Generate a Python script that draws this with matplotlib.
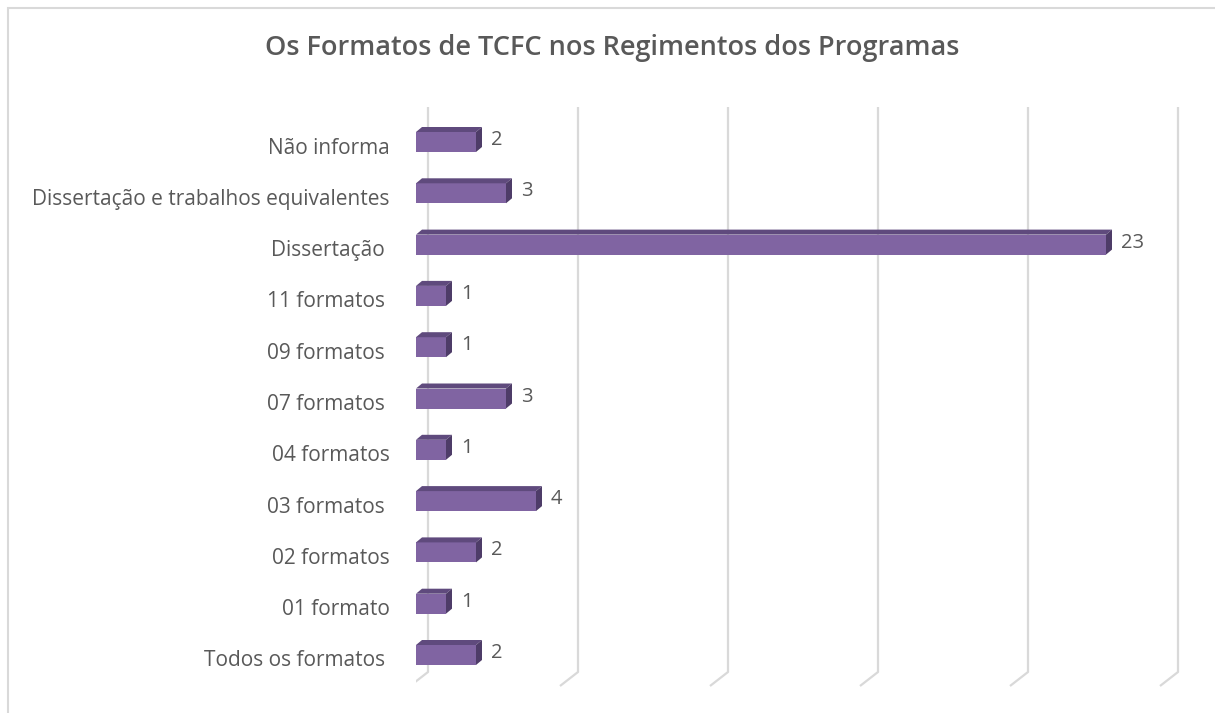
import matplotlib.pyplot as plt
from matplotlib.patches import Polygon, Rectangle

categories = ['Todos os formatos ', '01 formato', '02 formatos', '03 formatos ',
              '04 formatos', '07 formatos ', '09 formatos ', '11 formatos ',
              'Dissertação ', 'Dissertação e trabalhos equivalentes', 'Não informa']
values = [2, 1, 2, 4, 1, 3, 1, 1, 23, 3, 2]

W, H = 1215, 713
front = '#8064A2'
top_col = '#5F4A7D'
side_col = '#4E3C68'
grid_col = '#D9D9D9'
txt = '#595959'

plt.rcParams['font.family'] = ['Open Sans', 'DejaVu Sans']

fig = plt.figure(figsize=(W / 100, H / 100), dpi=100)

# axes placed so data maps to pixels: x 0 -> 416 px, 30 px per unit
x0_px, px_unit = 416, 30.0
ax_l, ax_r = x0_px, 1200
y_bot_px, y_top_px = 695, 90
ax = fig.add_axes([ax_l / W, 1 - y_bot_px / H, (ax_r - ax_l) / W, (y_bot_px - y_top_px) / H])
ax.set_xlim(0, (ax_r - ax_l) / px_unit)
# category i center at pixel 655 - 51.3*i
cat_px = 51.3
ax.set_ylim((655 - y_bot_px) / cat_px, (655 - y_top_px) / cat_px)
ax.axis('off')

def dx(p):
    return p / px_unit

def dy(p):
    return p / cat_px

# floor/back-wall gridlines
for k in range(6):
    xb = 5 * k + dx(12)
    ax.plot([xb, xb, xb - dx(18)], [(655 - 107) / cat_px, (655 - 672) / cat_px, (655 - 686) / cat_px],
            color=grid_col, lw=1.6, solid_capstyle='butt', zorder=1)

bh = dy(20)
ddx, ddy = dx(6), dy(5)
for i, v in enumerate(values):
    y0 = i - bh / 2
    ax.add_patch(Rectangle((0, y0), v, bh, facecolor=front, edgecolor='none', zorder=3))
    ax.add_patch(Polygon([(0, y0 + bh), (v, y0 + bh), (v + ddx, y0 + bh + ddy), (ddx, y0 + bh + ddy)],
                         closed=True, facecolor=top_col, edgecolor='none', zorder=3))
    ax.add_patch(Polygon([(v, y0), (v + ddx, y0 + ddy), (v + ddx, y0 + bh + ddy), (v, y0 + bh)],
                         closed=True, facecolor=side_col, edgecolor='none', zorder=3))
    ax.text(v + dx(15), i + dy(2), str(v), ha='left', va='center', fontsize=14.5, color=txt, zorder=4)
    ax.text(-dx(26), i - dy(6), categories[i], ha='right', va='center', fontsize=15, color=txt,
            clip_on=False)

fig.text(612 / W, 1 - 48 / H, 'Os Formatos de TCFC nos Regimentos dos Programas',
         ha='center', va='center', fontsize=19.5, fontweight='semibold', color=txt)

# chart border
fig.patches.append(Rectangle((8 / W, -0.05), 1.1, 1 - 8 / H + 0.05, transform=fig.transFigure,
                             facecolor='none', edgecolor=grid_col, lw=1.5))

fig.savefig('out.png', dpi=100)
